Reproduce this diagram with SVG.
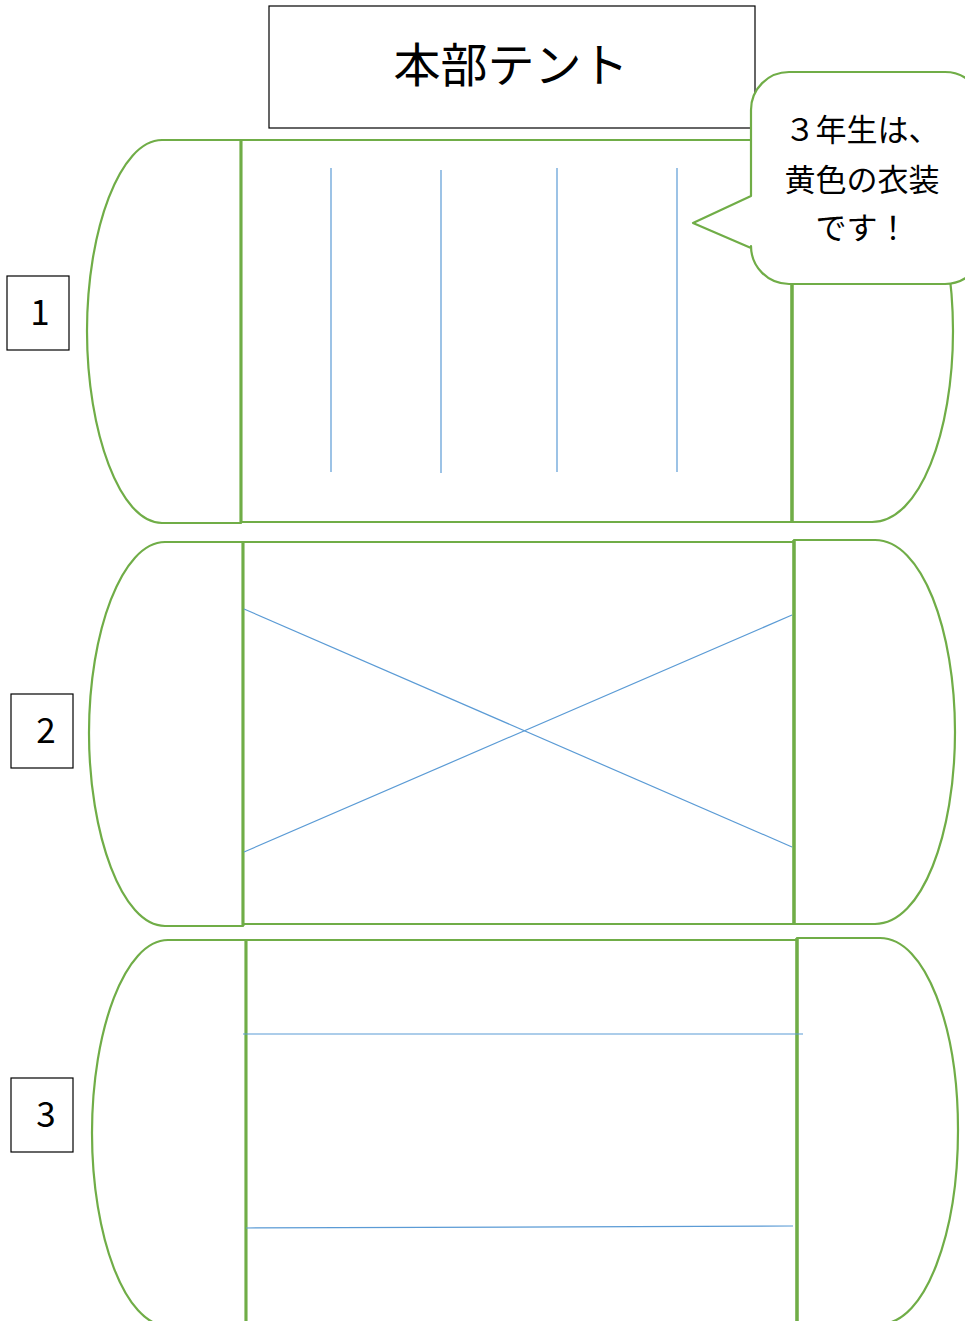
<svg xmlns="http://www.w3.org/2000/svg" width="965" height="1321" viewBox="0 0 965 1321">
<style>
.g{fill:#fff;stroke:#70AD47;stroke-width:2.2;stroke-linejoin:round}
.v{stroke:#70AD47;stroke-width:3;fill:none}
.vt{stroke:#70AD47;stroke-width:3.5;fill:none}
.b{stroke:#5B9BD5;stroke-width:1.2;fill:none}
.box{fill:#fff;stroke:#000;stroke-width:1.2}
.t{font-family:"Noto Sans CJK JP","Noto Sans",sans-serif;fill:#000;text-anchor:middle}
</style>
<rect width="965" height="1321" fill="#fff"/>
<g id="title">
<rect class="box" x="269" y="6" width="486" height="122"/>
<text class="t" x="511" y="82" font-size="47">本部テント</text>
</g>
<g id="tent1">
<path class="g" d="M241,140 H162 C120,140 87,230 87,331 C87,432 120,523 162,523 H241 Z"/>
<rect class="g" x="241" y="140" width="551" height="382"/>
<path class="g" d="M792,140 H872 C920,140 953,230 953,331 C953,432 920,522 872,522 H792 Z"/>
<line class="v" x1="241" y1="140" x2="241" y2="523"/>
<line class="vt" x1="792" y1="140" x2="792" y2="522"/>
</g>
<g id="tent2">
<path class="g" d="M243,542 H165 C122,542 89,632 89,733 C89,834 122,926 165,926 H243 Z"/>
<rect class="g" x="243" y="542" width="551" height="382"/>
<path class="g" d="M794,540 H875 C922,540 955,630 955,732 C955,834 922,924 875,924 H794 Z"/>
<line class="v" x1="243" y1="542" x2="243" y2="926"/>
<line class="vt" x1="794" y1="540" x2="794" y2="924"/>
</g>
<g id="tent3">
<path class="g" d="M246,940 H168 C125,940 92,1030 92,1133 C92,1236 125,1326 168,1326 H246 Z"/>
<rect class="g" x="246" y="940" width="551" height="400"/>
<path class="g" d="M797,938 H880 C926,938 958,1028 958,1130 C958,1232 926,1324 880,1324 H797 Z"/>
<line class="v" x1="246" y1="940" x2="246" y2="1330"/>
<line class="vt" x1="797" y1="938" x2="797" y2="1330"/>
</g>
<g id="connectors">
<line class="b" x1="331" y1="168" x2="331" y2="472"/>
<line class="b" x1="441" y1="170" x2="441" y2="473"/>
<line class="b" x1="557" y1="168" x2="557" y2="472"/>
<line class="b" x1="677" y1="168" x2="677" y2="472"/>
<line class="b" x1="244" y1="609" x2="792" y2="847"/>
<line class="b" x1="244" y1="852" x2="792" y2="615"/>
<line class="b" x1="243" y1="1034" x2="803" y2="1034"/>
<line class="b" x1="246" y1="1228" x2="793" y2="1226"/>
</g>
<g id="label1">
<rect class="box" x="7" y="276" width="62" height="74"/>
<text class="t" x="40" y="325" font-size="35">1</text>
</g>
<g id="label2">
<rect class="box" x="11" y="694" width="62" height="74"/>
<text class="t" x="46" y="743" font-size="35">2</text>
</g>
<g id="label3">
<rect class="box" x="11" y="1078" width="62" height="74"/>
<text class="t" x="46" y="1127" font-size="35">3</text>
</g>
<g id="bubble">
<path class="g" d="M789,72 H945 A38,38 0 0 1 983,110 V246 A38,38 0 0 1 945,284 H789 A38,38 0 0 1 751,246 V248 L693,223 L751,196 V110 A38,38 0 0 1 789,72 Z"/>
<text class="t" x="862" y="141" font-size="31">３年生は、</text>
<text class="t" x="862" y="191" font-size="31">黄色の衣装</text>
<text class="t" x="862" y="239" font-size="31">です！</text>
</g>
</svg>
